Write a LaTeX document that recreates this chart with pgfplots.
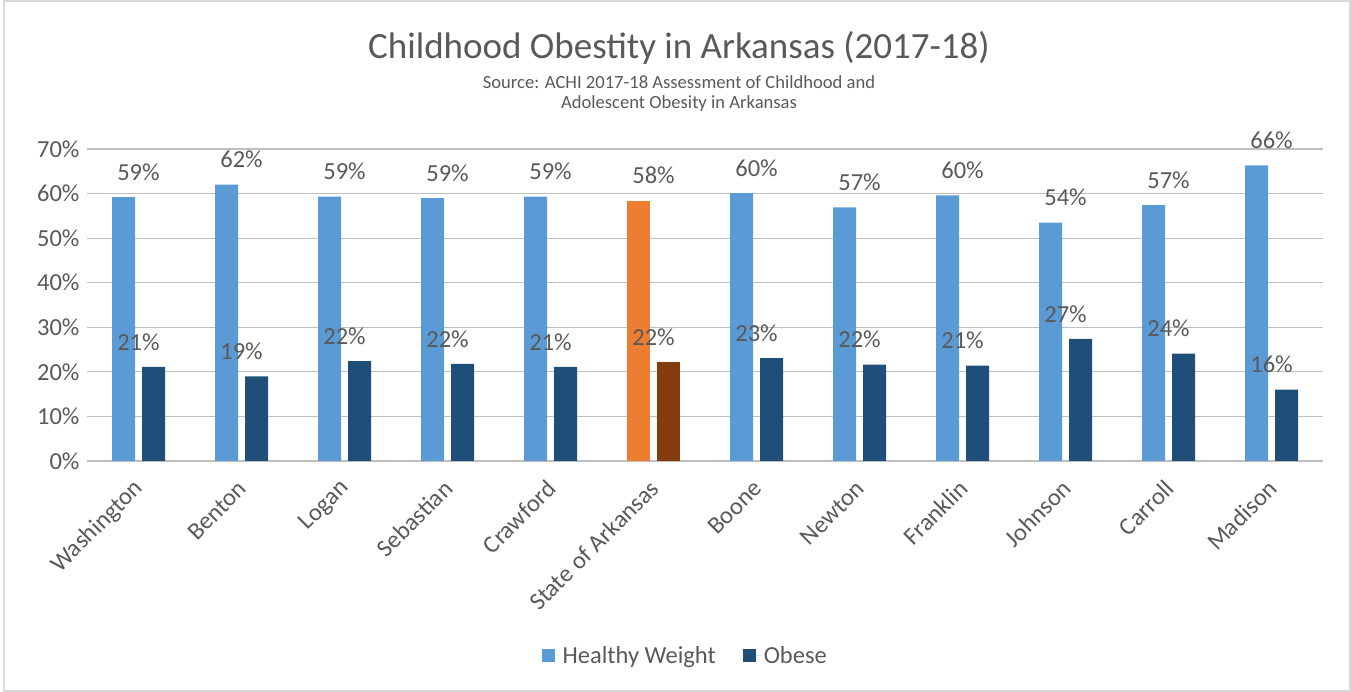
\documentclass[border=0pt]{standalone}
\usepackage{pgfplots}
\pgfplotsset{compat=1.18}
\usepackage{fontspec}
\setmainfont{Carlito}
\definecolor{txt}{HTML}{595959}
\definecolor{grid}{HTML}{D9D9D9}
\definecolor{hw}{HTML}{5B9BD5}
\definecolor{ob}{HTML}{1F4E79}
\definecolor{sh}{HTML}{ED7D31}
\definecolor{so}{HTML}{843C0C}
\begin{document}
\begin{tikzpicture}[x=1pt,y=1pt]
\useasboundingbox (0,0) rectangle (1351,692);
\draw[grid,line width=1.5pt] (4,1) rectangle (1350,691);
\node[txt,font=\fontsize{37}{42}\selectfont] at (679,644) {Childhood Obestity in Arkansas (2017-18)};
\node[txt,font=\fontsize{18.6}{22}\selectfont] at (679,610) {Source: ACHI 2017-18 Assessment of Childhood and};
\node[txt,font=\fontsize{18.6}{22}\selectfont] at (679,588) {Adolescent Obesity in Arkansas};
\begin{axis}[
  at={(87pt,231pt)}, anchor=south west,
  scale only axis, width=1236pt, height=312pt,
  xmin=-0.5, xmax=11.5, ymin=0, ymax=70,
  axis line style={draw=none},
  major tick length=0pt,
  xtick style={draw=none}, ytick style={draw=none},
  xmajorgrids=false,
  ymajorgrids, major grid style={grid, line width=1.2pt},
  /pgf/number format/assume math mode=true,
  ytick={0,10,20,30,40,50,60,70},
  yticklabels={0\%,10\%,20\%,30\%,40\%,50\%,60\%,70\%},
  yticklabel style={txt, font=\fontsize{24.5}{28}\selectfont, xshift=-4pt},
  xtick={0,1,2,3,4,5,6,7,8,9,10,11},
  xticklabels={Washington,Benton,Logan,Sebastian,Crawford,State of Arkansas,Boone,Newton,Franklin,Johnson,Carroll,Madison},
  xticklabel style={txt, font=\fontsize{24.5}{28}\selectfont, rotate=45, anchor=east, xshift=-12.6pt, yshift=-17.4pt},
  nodes near coords={\pgfmathprintnumber[fixed,precision=0,assume math mode=true]{\pgfplotspointmeta}\%},
  every node near coord/.append style={txt, font=\fontsize{24.5}{28}\selectfont, anchor=center, yshift=25pt},
  legend style={at={(0.484,-0.625)}, anchor=center, legend columns=2, draw=none, fill=none,
    font=\fontsize{24.5}{28}\selectfont, text=txt, inner xsep=0pt,
    /tikz/every even column/.append style={column sep=25pt}},
  legend image code/.code={\fill[#1] (0pt,-6.5pt) rectangle (13pt,6.5pt); \path (0pt,0pt) -- (19pt,0pt);},
]
\addplot[ybar, bar width=23pt, bar shift=-15pt, fill=hw, draw=none] coordinates {
 (0,59.2) (1,62.0) (2,59.3) (3,59.0) (4,59.3) (6,60.1) (7,56.9) (8,59.6) (9,53.5) (10,57.4) (11,66.3)};
\addlegendentry{Healthy Weight}
\addplot[ybar, bar width=23pt, bar shift=15pt, fill=ob, draw=none] coordinates {
 (0,21.1) (1,19.0) (2,22.4) (3,21.8) (4,21.1) (6,23.1) (7,21.6) (8,21.4) (9,27.4) (10,24.1) (11,16.0)};
\addlegendentry{Obese}
\addplot[ybar, bar width=23pt, bar shift=-15pt, fill=sh, draw=none, forget plot] coordinates {(5,58.4)};
\addplot[ybar, bar width=23pt, bar shift=15pt, fill=so, draw=none, forget plot] coordinates {(5,22.2)};
\end{axis}
\end{tikzpicture}
\end{document}
